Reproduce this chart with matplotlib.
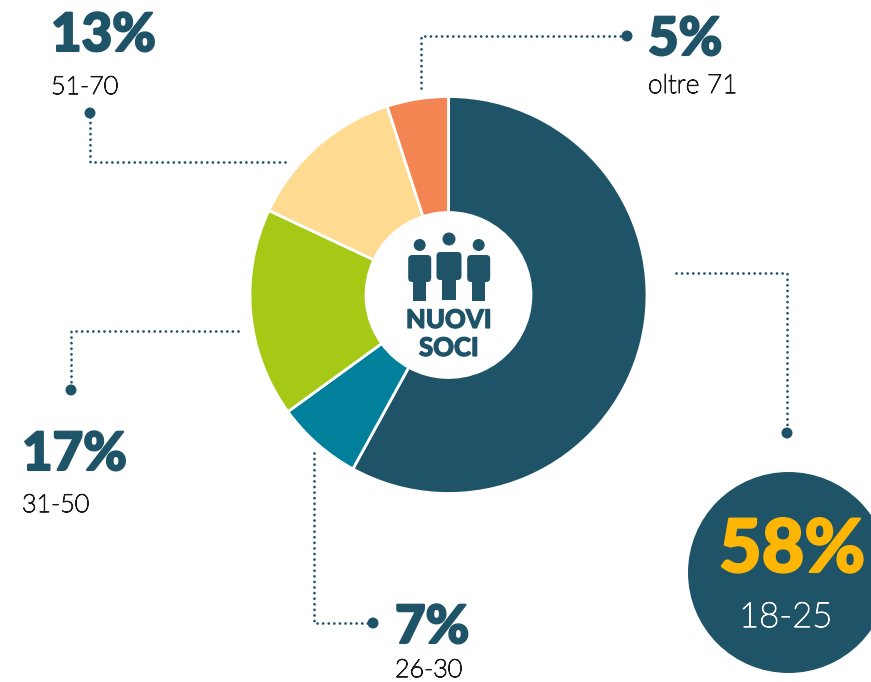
#plot.py
import matplotlib
matplotlib.use("Agg")
import matplotlib.pyplot as plt
import matplotlib.patheffects as pe
from matplotlib.patches import Circle, Rectangle, FancyBboxPatch

# slices, clockwise from the top
ages = ["18-25", "26-30", "31-50", "51-70", "oltre 71"]
shares = [58, 7, 17, 13, 5]
slice_colors = ["#1F5468", "#00809B", "#A6C916", "#FFDB92", "#F38553"]

DARK = "#1F5468"
GOLD = "#FDB604"
W, H = 871, 682


def Y(py):
    # picture pixels run downwards, the axes run upwards
    return H - py


fig = plt.figure(figsize=(8.71, 6.82), dpi=100)
ax = fig.add_axes([0, 0, 1, 1])

ax.pie(shares, colors=slice_colors, startangle=90, counterclock=False,
       center=(448.5, Y(295)), radius=198.5, frame=True,
       wedgeprops={"width": 198.5 - 82.5, "edgecolor": "white", "linewidth": 2})
ax.set_xlim(0, W)
ax.set_ylim(0, H)
ax.set_aspect("equal")
ax.axis("off")

# big circle on the right, it runs off the edge
ax.add_patch(Circle((788.5, Y(572.5)), 100.5, color=DARK, lw=0))


# dotted leaders: the last point carries the dot
def leader(xs, ys):
    ax.plot(xs, [Y(v) for v in ys], color=DARK, lw=2, dashes=(0.01, 2.0),
            dash_capstyle="round", solid_joinstyle="round")
    ax.add_patch(Circle((xs[-1], Y(ys[-1])), 5.5, color=DARK, lw=0, zorder=3))


leader([285, 90, 90], [162, 162, 113])
leader([421, 421, 627], [88, 36, 36])
leader([676, 787, 787], [273, 273, 433])
leader([238, 71, 71], [331, 331, 390])
leader([314, 314, 373], [453, 623, 623])


# labels, the heavy and light looks come from a stroke on Lato
def label(x, y1, y2, i, col1=DARK, col2="#1a1a1a", size1=38, size2=18, x2=None):
    ax.text(x, Y(y1), f"{shares[i]}%", family="Lato", weight="black", fontsize=size1,
            color=col1, ha="left", va="baseline",
            path_effects=[pe.withStroke(linewidth=1.5, foreground=col1)])
    ax.text(x if x2 is None else x2, Y(y2), ages[i], family="Lato", weight="light", fontsize=size2,
            color=col2, ha="left", va="baseline",
            path_effects=[pe.withStroke(linewidth=0.8, foreground=col2)])


label(51, 51, 94, 3)
label(648, 55, 93, 4, size2=19)
label(22, 470, 512, 2)
label(395, 643, 677, 1)
label(719, 572, 627, 0, col1=GOLD, col2="white", size1=53, size2=25, x2=739)


# people icon in the hole
def person(cx, head_y, head_r, bw, body_top, body_bot, lw_, leg_bot):
    ax.add_patch(Circle((cx, Y(head_y)), head_r, color=DARK, lw=0))
    ax.add_patch(FancyBboxPatch((cx - bw / 2 + 3, Y(body_bot) + 3), bw - 6, body_bot - body_top - 6,
                                boxstyle="round,pad=3,rounding_size=4", color=DARK, lw=0))
    ax.add_patch(Rectangle((cx - lw_ / 2, Y(leg_bot)), lw_, leg_bot - body_bot + 2, color=DARK, lw=0))


person(419.7, 245, 6, 23, 255, 282, 13, 301)
person(449, 239, 6.5, 25, 252, 280, 14, 300)
person(478.7, 245, 6, 23, 255, 282, 13, 301)

for word, py in [("NUOVI", 328), ("SOCI", 356)]:
    ax.text(449, Y(py), word, family="Lato", weight="black", fontsize=18.5, color=DARK,
            ha="center", va="baseline",
            path_effects=[pe.withStroke(linewidth=0.8, foreground=DARK)])

fig.savefig("out.png", dpi=100)
